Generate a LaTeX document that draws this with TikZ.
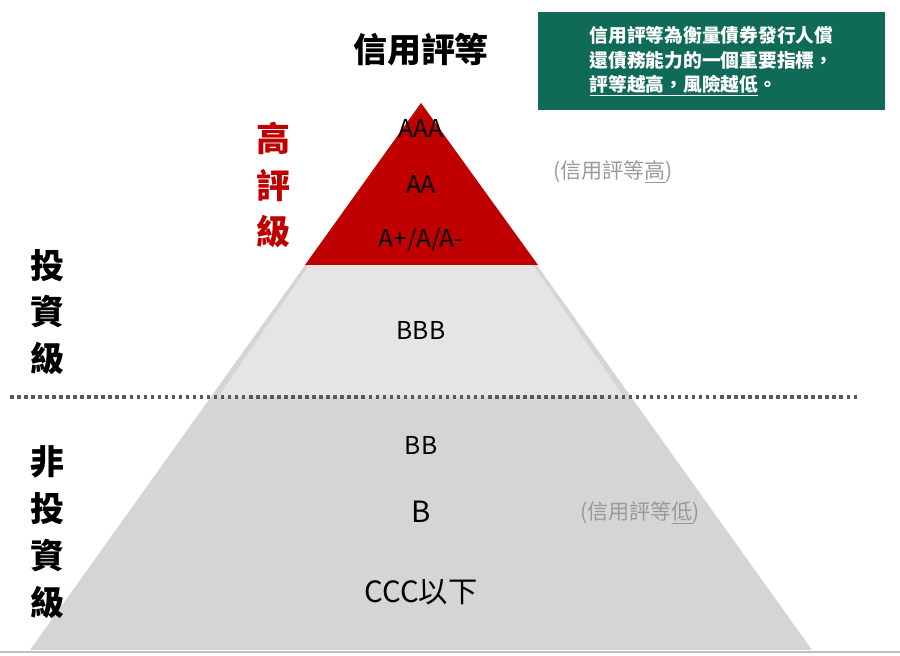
\documentclass[tikz,border=0pt]{standalone}
\usepackage{fontspec}
\setmainfont{Noto Sans CJK TC}
\usetikzlibrary{positioning}
\definecolor{ratingred}{HTML}{C00000}
\definecolor{notegreen}{HTML}{0F6B58}
\begin{document}
\begin{tikzpicture}[x=0.03cm, y=-0.03cm]
    % Styles
    \tikzset{grade/.style={font=\fontsize{21}{24}\selectfont, text=black},
             side/.style={font=\fontsize{29}{40}\selectfont\bfseries, align=center},
             hint/.style={font=\fontsize{18}{22}\selectfont\itshape, text=gray!80}}
    \useasboundingbox (0,0) rectangle (900,656);

    % Pyramid
    \fill[gray!33] (30,650) -- (812,650) -- (421,103) -- cycle;
    \fill[gray!20] (218,397) -- (624,397) -- (421,103) -- cycle;
    \fill[ratingred] (305,265) -- (538,265) -- (421,103) -- cycle;
    \draw[gray!50, line width=1pt] (0,652) -- (900,652);
    \draw[gray!70!black, line width=3pt, dash pattern=on 3pt off 3pt] (10,397) -- (860,397);

    % Grades
    \node[grade] (aaa) at (421,128) {AAA};
    \node[grade] (aa) at (421,184) {AA};
    \node[grade] (a) at (421,240) {A+/A/A-};
    \node[grade] (bbb) at (421,330) {BBB};
    \node[grade] (bb) at (421,445) {BB};
    \node[grade, font=\fontsize{25}{28}\selectfont] (b) at (421,512) {B};
    \node[grade, font=\fontsize{25}{28}\selectfont] (ccc) at (421,592) {CCC以下};

    % Titles and side labels
    \node[font=\fontsize{29}{32}\selectfont\bfseries] (title) at (421,50) {信用評等};
    \node[side, text=ratingred] (high) at (273,185) {高\\評\\級};
    \node[side] (invest) at (47,312) {投\\資\\級};
    \node[side] (junk) at (47,532) {非\\投\\資\\級};
    \node[hint] (hinthigh) at (613,172) {(信用評等\underline{高})};
    \node[hint] (hintlow) at (640,513) {(信用評等\underline{低})};

    % Note box
    \node[fill=notegreen, text=white, align=left, inner sep=5pt, font=\fontsize{16}{21}\selectfont\bfseries,
          minimum width=347*0.03cm, minimum height=98*0.03cm] (note) at (711.5,61)
        {信用評等為衡量債券發行人償\\還債務能力的一個重要指標，\\\underline{評等越高，風險越低}。};
\end{tikzpicture}
\end{document}
